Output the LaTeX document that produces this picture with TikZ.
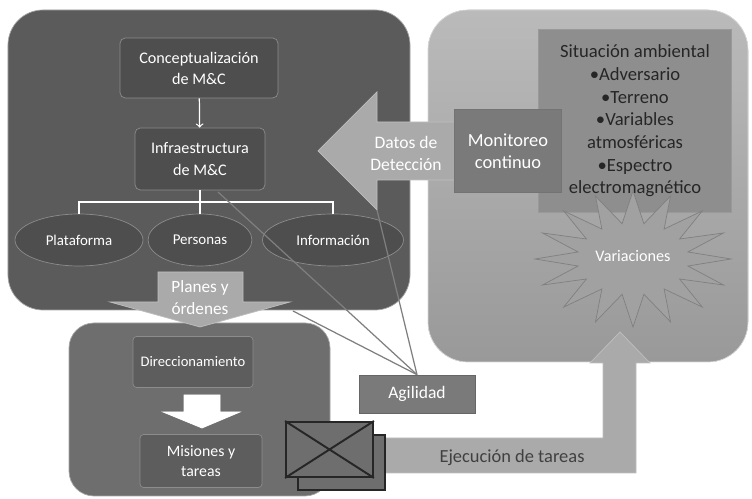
\documentclass[tikz,border=0pt]{standalone}
\usepackage{fontspec}
\setmainfont{Carlito}
\usetikzlibrary{shapes.geometric}

\definecolor{panelA}{HTML}{5B5B5B}
\definecolor{panelB}{HTML}{A6A6A6}
\definecolor{panelC}{HTML}{6E6E6E}
\definecolor{boxA}{HTML}{4E4E4E}
\definecolor{boxB}{HTML}{5D5D5D}
\definecolor{boxC}{HTML}{7A7A7A}
\definecolor{sitfill}{HTML}{8E8E8E}
\definecolor{arrfill}{HTML}{AAAAAA}
\definecolor{linkcol}{HTML}{7F7F7F}

\tikzset{
    panel/.style={rounded corners=#1, fill=panelA, draw=black!35},
    box/.style={rectangle, draw=black!45, fill=boxA, text=white, align=center, inner sep=0pt},
    oval/.style={ellipse, draw=black!45, fill=boxA, text=white, inner sep=0pt,
                 minimum height=1.04cm, font=\fontsize{8.5}{10}\selectfont},
    blockarrow/.style={fill=arrfill, draw=black!25},
    tree/.style={draw=white, line width=0.7pt},
    link/.style={draw=linkcol, line width=0.7pt},
    lbl/.style={text=white, align=center, font=\fontsize{10}{12.5}\selectfont}
}

\begin{document}
\begin{tikzpicture}[x=0.02cm, y=-0.02cm]
    \useasboundingbox (0,0) rectangle (752,499);
    \fill [white] (0,0) rectangle (752,499);
    \draw [panel=0.7cm] (8,10) rectangle (410,310);
    \draw [panel=0.8cm, top color=black!27, bottom color=black!40, draw=black!15] (428,10) rectangle (748,362);
    \draw [panel=0.5cm, fill=panelC] (69,323) rectangle (330,496);

    \node [box, rounded corners=3pt, minimum width=3.16cm, minimum height=1.2cm, font=\fontsize{9.2}{12}\selectfont] (concept) at (199,68) {Conceptualización\\de M\&C};
    \node [box, rounded corners=3pt, minimum width=2.6cm, minimum height=1.24cm, font=\fontsize{9.2}{12}\selectfont] (infra) at (200,159) {Infraestructura\\de M\&C};
    \draw [->, draw=white, line width=0.7pt] (concept) -- (infra);
    \node [oval, minimum width=2.56cm] (plat) at (79,240) {Plataforma};
    \node [oval, minimum width=2.08cm] (pers) at (200,240) {Personas};
    \node [oval, minimum width=2.82cm] (info) at (333,240) {Información};
    \coordinate (fork) at (200,202);
    \draw [tree] (infra.south) -- (fork) -- (pers.north);
    \draw [tree] (plat.north) |- (fork) -| (info.north);

    \draw [blockarrow] (158,272) -- (243,272) -- (243,302) -- (290,302) -- (200,327)
        -- (110,302) -- (158,302) -- cycle;
    \node [lbl, font=\fontsize{9.8}{12.5}\selectfont] (planes) at (200,298) {Planes y\\órdenes};

    \draw [blockarrow] (460,122) -- (377,122) -- (377,92) -- (318,151) -- (377,210)
        -- (377,180) -- (460,180) -- cycle;
    \node [lbl] (datos) at (406,153) {Datos de\\Detección};
    \coordinate (pc) at (377,210);

    \node [box, fill=sitfill, draw=black!40, text=black!85, minimum width=3.86cm, minimum height=3.66cm,
           font=\fontsize{10.6}{12.9}\selectfont] (sit) at (635,121)
        {Situación ambiental\\•Adversario\\•Terreno\\•Variables\\atmosféricas\\•Espectro\\electromagnético};
    \node [box, fill=boxC, draw=black!55, minimum width=2.14cm, minimum height=1.66cm, font=\fontsize{10.5}{12.8}\selectfont] (monit) at (508,151) {Monitoreo\\continuo};

    \draw [fill=black!37, draw=black!50] plot [samples at={0,...,31}, variable=\k]
        ({633+ifthenelse(mod(\k,2)==0,98,56)*cos(\k*11.25)}, {259+ifthenelse(mod(\k,2)==0,68,36)*sin(\k*11.25)}) -- cycle;
    \node [lbl, font=\fontsize{9.2}{11}\selectfont] (var) at (633,256) {Variaciones};

    \node [box, rounded corners=2pt, fill=boxB, minimum width=2.4cm, minimum height=1.02cm, font=\fontsize{8.3}{10}\selectfont] (dir) at (193,362) {Direccionamiento};
    \draw [fill=white, draw=white] (184,395) -- (220,395) -- (220,412) -- (240,412) -- (202,428)
        -- (163,412) -- (184,412) -- cycle;
    \node [box, rounded corners=2pt, fill=boxB, minimum width=2.44cm, minimum height=1.06cm, font=\fontsize{9}{11.5}\selectfont] (mis) at (201,461) {Misiones y\\tareas};

    \draw [blockarrow] (380,438) -- (603,438) -- (603,363) -- (590,363) -- (620,332) -- (650,363)
        -- (636,363) -- (636,473) -- (380,473) -- cycle;
    \node [text=black!75, font=\fontsize{10.5}{12}\selectfont] (ejec) at (512,458) {Ejecución de tareas};

    \node [box, fill=boxC, draw=black!60, minimum width=2.32cm, minimum height=0.76cm, font=\fontsize{10}{12}\selectfont] (agil) at (417,394) {Agilidad};
    \coordinate (pa) at (293,311);
    \coordinate (pb) at (218,192);
    \draw [link] (agil.north) -- (pa);
    \draw [link] (agil.north) -- (pb);
    \draw [link] (agil.north) -- (pc);

    \node [box, fill=panelC, draw=black!85, line width=1.1pt, minimum width=1.74cm, minimum height=1.1cm] (xback) at (341.5,462.5) {};
    \node [box, fill=panelC, draw=black!85, line width=1.1pt, minimum width=1.74cm, minimum height=1.1cm] (xfront) at (329.5,449.5) {};
    \draw [draw=black!85, line width=1.1pt] (xfront.north west) -- (xfront.south east)
        (xfront.north east) -- (xfront.south west);
\end{tikzpicture}
\end{document}
